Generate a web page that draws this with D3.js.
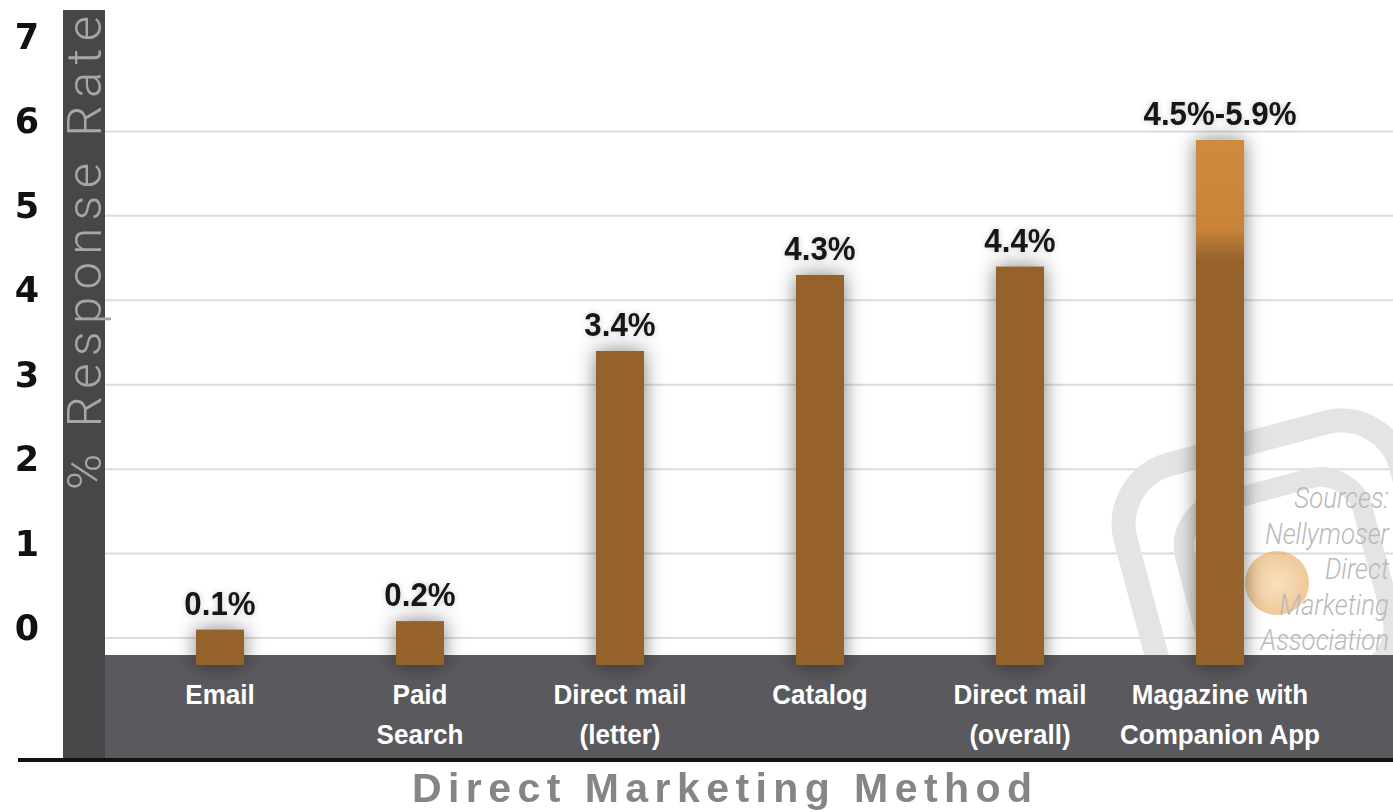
<!DOCTYPE html>
<html>
<head>
<meta charset="utf-8">
<script src="https://cdn.jsdelivr.net/npm/d3@7/dist/d3.min.js"></script>
<style>
  body { margin: 0; background: #fff; }
  svg { display: block; }
</style>
</head>
<body>
<svg id="chart" width="1393" height="812"></svg>
<script>
// data
const categories = ["Email", "Paid Search", "Direct mail (letter)", "Catalog", "Direct mail (overall)", "Magazine with Companion App"];
const categoryLines = [["Email"], ["Paid", "Search"], ["Direct mail", "(letter)"], ["Catalog"], ["Direct mail", "(overall)"], ["Magazine with", "Companion App"]];
const lowValues = [0.1, 0.2, 3.4, 4.3, 4.4, 4.5];
const highValues = [0.1, 0.2, 3.4, 4.3, 4.4, 5.9];
const valueLabels = ["0.1%", "0.2%", "3.4%", "4.3%", "4.4%", "4.5%-5.9%"];
const yTicks = [0, 1, 2, 3, 4, 5, 6, 7];
const sourceLines = ["Sources:", "Nellymoser", "Direct", "Marketing", "Association"];

const width = 1393, height = 812;
const bandTop = 655, bandBottom = 758;
const barWidth = 48;
const brown = "#94622b", orange = "#d08a3c";

const svg = d3.select("#chart");
const defs = svg.append("defs");

// soft shadow behind the bars
let shadow = defs.append("filter").attr("id", "barShadow")
  .attr("filterUnits", "userSpaceOnUse")
  .attr("x", 0).attr("y", 0).attr("width", width).attr("height", height);
shadow.append("feGaussianBlur").attr("in", "SourceAlpha").attr("stdDeviation", 10).attr("result", "blur");
shadow.append("feFlood").attr("flood-color", "#000").attr("flood-opacity", 0.5);
shadow.append("feComposite").attr("in2", "blur").attr("operator", "in").attr("result", "sh");
let merge = shadow.append("feMerge");
merge.append("feMergeNode").attr("in", "sh");
merge.append("feMergeNode").attr("in", "SourceGraphic");

let glow = defs.append("filter").attr("id", "textShadow")
  .attr("filterUnits", "userSpaceOnUse")
  .attr("x", 0).attr("y", 0).attr("width", width).attr("height", height);
glow.append("feGaussianBlur").attr("in", "SourceAlpha").attr("stdDeviation", 3).attr("result", "blur");
glow.append("feFlood").attr("flood-color", "#000").attr("flood-opacity", 0.2);
glow.append("feComposite").attr("in2", "blur").attr("operator", "in").attr("result", "sh");
let merge2 = glow.append("feMerge");
merge2.append("feMergeNode").attr("in", "sh");
merge2.append("feMergeNode").attr("in", "SourceGraphic");

let grad = defs.append("linearGradient").attr("id", "topGrad")
  .attr("x1", 0).attr("y1", 0).attr("x2", 0).attr("y2", 1);
grad.append("stop").attr("offset", "0%").attr("stop-color", orange);
grad.append("stop").attr("offset", "72%").attr("stop-color", "#c9843a");
grad.append("stop").attr("offset", "100%").attr("stop-color", brown);

let radial = defs.append("radialGradient").attr("id", "dotGrad");
radial.append("stop").attr("offset", "0%").attr("stop-color", "#f3d09c");
radial.append("stop").attr("offset", "100%").attr("stop-color", "#e8ab62");

// scales
const x = d3.scalePoint().domain(categories).range([220, 1220]);
const y = d3.scaleLinear().domain([0, 7]).range([638, 47]);

// grid lines
svg.append("g").selectAll("line")
  .data(yTicks.filter(t => t < 7))
  .enter().append("line")
  .attr("x1", 105).attr("x2", width)
  .attr("y1", d => y(d)).attr("y2", d => y(d))
  .attr("stroke", "#dcdcdc").attr("stroke-width", 2);

// watermark logo
let mark = svg.append("g").attr("transform", "translate(1286,578) rotate(-15)");
mark.append("rect").attr("x", -145).attr("y", -140).attr("width", 285).attr("height", 280)
  .attr("rx", 62).attr("fill", "none").attr("stroke", "#e4e4e4").attr("stroke-width", 24);
mark.append("rect").attr("x", -92).attr("y", -90).attr("width", 184).attr("height", 200)
  .attr("rx", 44).attr("fill", "none").attr("stroke", "#e4e4e4").attr("stroke-width", 20);

svg.append("circle").attr("cx", 1277).attr("cy", 583).attr("r", 32)
  .attr("fill", "url(#dotGrad)").attr("opacity", 0.65);

svg.append("g").selectAll("text")
  .data(sourceLines)
  .enter().append("text")
  .attr("transform", (d, i) => "translate(1389," + (508 + i * 35.5) + ") scale(0.86,1)")
  .attr("text-anchor", "end")
  .style("font-family", "Roboto, 'Open Sans', Lato, sans-serif")
  .style("font-weight", 300)
  .style("font-style", "italic")
  .style("font-size", "30px")
  .style("fill", "#b9b9b9")
  .text(d => d);

// bottom band
svg.append("rect").attr("x", 105).attr("y", bandTop)
  .attr("width", width - 105).attr("height", bandBottom - bandTop)
  .attr("fill", "#5a5a5e");

// bars
let bars = svg.append("g").attr("filter", "url(#barShadow)");
bars.selectAll("rect.low")
  .data(categories)
  .enter().append("rect").attr("class", "low")
  .attr("x", d => x(d) - barWidth / 2)
  .attr("y", (d, i) => y(lowValues[i]))
  .attr("width", barWidth)
  .attr("height", (d, i) => bandTop + 10 - y(lowValues[i]))
  .attr("fill", brown);
bars.selectAll("rect.high")
  .data(categories.filter((d, i) => highValues[i] > lowValues[i]))
  .enter().append("rect").attr("class", "high")
  .attr("x", d => x(d) - barWidth / 2)
  .attr("y", d => y(highValues[categories.indexOf(d)]))
  .attr("width", barWidth)
  .attr("height", d => {
    let i = categories.indexOf(d);
    return y(lowValues[i]) - y(highValues[i]) + 4;
  })
  .attr("fill", "url(#topGrad)");

// value labels
svg.append("g").attr("filter", "url(#textShadow)").selectAll("text")
  .data(categories)
  .enter().append("text")
  .attr("transform", (d, i) => "translate(" + x(d) + "," + (y(highValues[i]) - 15) + ") scale(0.92,1)")
  .attr("text-anchor", "middle")
  .style("font-family", "'Liberation Sans', Arial, sans-serif")
  .style("font-weight", "bold")
  .style("font-size", "34px")
  .style("fill", "#141414")
  .text((d, i) => valueLabels[i]);

// category labels
let cats = svg.append("g").selectAll("g")
  .data(categories)
  .enter().append("g")
  .attr("transform", d => "translate(" + x(d) + ",0)");
cats.selectAll("text")
  .data((d, i) => categoryLines[i])
  .enter().append("text")
  .attr("transform", (d, j) => "translate(0," + (704 + j * 40) + ") scale(0.93,1)")
  .attr("text-anchor", "middle")
  .style("font-family", "'Liberation Sans', Arial, sans-serif")
  .style("font-weight", "bold")
  .style("font-size", "28px")
  .style("fill", "#ffffff")
  .text(d => d);

// left band with y axis title
svg.append("rect").attr("x", 63).attr("y", 10)
  .attr("width", 42).attr("height", bandBottom - 10)
  .attr("fill", "#47474a");

svg.append("text")
  .attr("transform", "translate(101,490) rotate(-90)")
  .attr("textLength", 474)
  .attr("lengthAdjust", "spacing")
  .style("font-family", "Roboto, 'Open Sans', Lato, sans-serif")
  .style("font-weight", 300)
  .style("font-size", "49px")
  .style("fill", "#a6a6a6")
  .text("% Response Rate");

// tick labels
svg.append("g").selectAll("text")
  .data(yTicks)
  .enter().append("text")
  .attr("x", 27)
  .attr("y", d => y(d) + 2)
  .attr("text-anchor", "middle")
  .style("font-family", "'DejaVu Sans', sans-serif")
  .style("font-weight", "bold")
  .style("font-size", "35px")
  .style("fill", "#111")
  .text(d => d);

// base line and x title
svg.append("rect").attr("x", 18).attr("y", bandBottom)
  .attr("width", width - 18).attr("height", 4).attr("fill", "#111");

svg.append("text")
  .attr("x", 722).attr("y", 802)
  .attr("text-anchor", "middle")
  .attr("textLength", 620)
  .attr("lengthAdjust", "spacing")
  .style("font-family", "'Liberation Sans', Arial, sans-serif")
  .style("font-weight", "bold")
  .style("font-size", "41px")
  .style("fill", "#858588")
  .text("Direct Marketing Method");
</script>
</body>
</html>
